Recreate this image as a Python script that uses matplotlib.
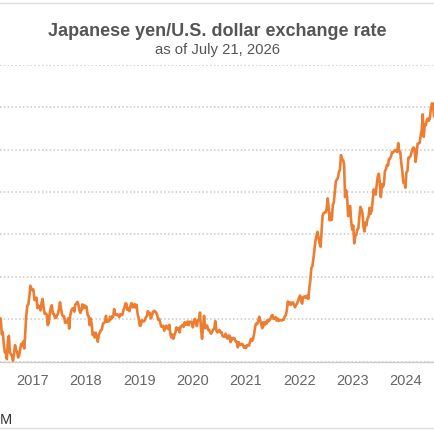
import pandas as pd
import numpy as np
import matplotlib
matplotlib.use('Agg')
import matplotlib.pyplot as plt
from matplotlib.lines import Line2D

plt.rcParams['font.family'] = ['Liberation Sans', 'DejaVu Sans']

# weekly (Friday) closes, yen per U.S. dollar
yen_2016 = [106.3, 107.1, 108.6, 110.2, 110.2, 106.5, 107.0, 104.2, 102.2, 102.5,
            100.6, 104.9, 106.1, 102.1, 101.8, 101.3, 100.2, 101.8, 103.9, 102.7,
            102.3, 101.0, 101.4, 102.9, 104.2, 103.8, 104.7, 103.1, 106.7, 110.9,
            113.2, 113.5, 115.3, 117.9, 117.3, 116.9]
yen_2017 = [117.0, 114.5, 114.6, 115.1, 112.6, 113.2, 112.9, 112.1, 114.0, 114.8,
            112.7, 111.3, 111.4, 111.1, 108.6, 109.1, 111.5, 112.7, 113.3, 111.3,
            111.3, 110.4, 110.3, 110.9, 111.3, 112.4, 114.0, 112.5, 111.1, 110.7,
            110.7, 109.2, 109.2, 109.4, 110.2, 107.8, 110.8, 112.0, 112.5, 112.6,
            111.8, 113.5, 113.7, 114.1, 113.5, 112.1, 111.5, 112.2, 113.5, 112.6,
            113.3, 112.7]
yen_2018 = [113.0, 111.0, 110.8, 108.6, 110.2, 108.8, 106.3, 106.9, 105.7, 106.8,
            106.0, 104.7, 106.3, 106.9, 107.4, 107.6, 109.0, 109.1, 109.4, 110.8,
            109.4, 109.5, 109.5, 110.6, 110.0, 110.7, 110.5, 112.4, 111.4, 111.0,
            111.2, 110.9, 110.5, 111.2, 111.0, 111.0, 112.1, 112.6, 113.7, 113.7,
            112.2, 112.5, 111.9, 113.2, 113.8, 112.8, 112.9, 113.6, 112.7, 113.4,
            111.2, 110.3]
yen_2019 = [108.5, 108.5, 109.8, 109.6, 109.5, 109.7, 110.5, 110.7, 111.9, 111.2,
            111.5, 110.2, 110.9, 111.7, 112.0, 111.9, 111.6, 111.1, 109.9, 110.1,
            109.3, 108.3, 108.2, 108.5, 107.3, 107.9, 108.5, 107.9, 107.7, 108.7,
            106.6, 105.7, 106.4, 105.4, 106.3, 106.9, 108.1, 107.6, 107.9, 106.9,
            108.3, 108.4, 108.7, 108.2, 109.3, 108.8, 108.7, 109.5, 108.6, 109.4,
            109.4, 109.4]
yen_2020 = [108.1, 109.5, 110.1, 109.3, 108.4, 109.8, 109.8, 111.6, 107.9, 105.4,
            108.0, 110.8, 107.9, 108.5, 108.5, 107.5, 107.5, 106.9, 106.6, 107.1,
            107.6, 107.8, 109.6, 107.4, 106.9, 107.2, 107.5, 106.9, 107.0, 106.1,
            105.9, 105.9, 106.6, 105.8, 105.4, 106.2, 106.1, 104.6, 105.6, 105.3,
            105.6, 105.4, 104.7, 104.7, 103.4, 104.6, 103.9, 104.1, 104.2, 104.0,
            103.3, 103.6]
yen_2021 = [103.2, 103.9, 103.9, 103.8, 104.7, 105.4, 104.9, 105.4, 106.6, 108.3,
            109.0, 108.9, 109.6, 110.6, 109.7, 108.8, 107.9, 109.3, 108.6, 109.4,
            108.9, 109.8, 109.5, 109.7, 110.2, 110.8, 111.0, 110.1, 110.1, 110.5,
            109.7, 110.2, 109.6, 109.8, 109.8, 109.7, 109.9, 109.9, 110.7, 111.0,
            112.2, 114.2, 113.5, 114.0, 113.4, 113.9, 114.0, 113.4, 112.8, 113.4,
            113.7, 114.4, 115.1]
yen_2022 = [115.6, 114.2, 113.7, 115.3, 115.2, 115.4, 115.0, 115.6, 114.8, 117.3,
            119.2, 122.1, 122.5, 124.3, 126.4, 128.5, 129.7, 130.6, 129.2, 127.9,
            127.1, 130.9, 134.4, 135.0, 135.2, 135.2, 136.1, 138.5, 136.1, 133.3,
            135.0, 133.4, 136.9, 137.6, 140.2, 142.6, 142.9, 143.4, 144.7, 145.3,
            148.7, 147.6, 147.6, 146.6, 138.8, 140.4, 138.8, 134.3, 136.6, 136.7,
            132.9, 131.1]
yen_2023 = [132.1, 127.9, 129.6, 129.9, 131.2, 131.4, 134.2, 136.5, 135.9, 135.0,
            131.8, 130.7, 132.8, 132.2, 133.8, 134.2, 136.3, 134.8, 135.7, 137.9,
            140.6, 139.9, 139.4, 141.8, 143.7, 144.3, 142.1, 138.8, 141.8, 141.2,
            141.8, 144.9, 145.4, 146.4, 146.2, 147.8, 147.9, 148.4, 149.4, 149.3,
            149.6, 149.9, 149.7, 149.4, 151.5, 149.6, 149.4, 146.8, 144.9, 142.2,
            142.4, 141.0]
yen_2024 = [144.6, 144.9, 148.1, 148.2, 148.4, 149.3, 150.2, 150.5, 150.1, 147.1,
            149.1, 151.4, 151.4, 151.6, 153.3, 154.6, 158.3, 153.0, 155.8, 155.7,
            157.0, 157.3, 156.8, 157.4, 159.8, 160.9, 160.8, 157.9, 157.5, 153.8]

years = [2017, 2018, 2019, 2020, 2021, 2022, 2023, 2024]
y_ticks = [100, 110, 120, 130, 140, 150, 160, 170]

title = 'Japanese yen/U.S. dollar exchange rate'
subtitle = 'as of July 21, 2026'

# build one weekly series
parts = [pd.Series(yen_2016, index=pd.date_range('2016-04-29', periods=len(yen_2016), freq='W-FRI'))]
for yr, vals in zip(range(2017, 2025),
                    [yen_2017, yen_2018, yen_2019, yen_2020, yen_2021, yen_2022, yen_2023, yen_2024]):
    parts.append(pd.Series(vals, index=pd.date_range(f'{yr}-01-01', periods=len(vals), freq='W-FRI')))
rate = pd.concat(parts)

fig = plt.figure(figsize=(4.35, 4.35), dpi=100)
ax = fig.add_axes([0, 0.1662, 1, 0.6828])

ax.plot(rate.index, rate.values, color='#ED7D31', lw=1.9, solid_joinstyle='round')

ax.set_xlim(pd.Timestamp('2016-05-22'), pd.Timestamp('2024-07-19'))
ax.set_ylim(100, 170)

ax.set_yticks(y_ticks)
ax.yaxis.grid(True, linestyle=(0, (1, 1.5)), color='#c8c8c8', lw=1.1)
ax.tick_params(axis='y', length=0, labelleft=False)

ax.set_xticks([pd.Timestamp(f'{y}-01-01') for y in years])
ax.set_xticklabels([str(y) for y in years])
ax.tick_params(axis='x', length=0, pad=8, labelsize=10.5, labelcolor='#666666')

for s in ['top', 'left', 'right']:
    ax.spines[s].set_visible(False)
ax.spines['bottom'].set_color('#cccccc')
ax.spines['bottom'].set_linewidth(1)

fig.text(0.5, 0.9287, title, ha='center', va='center', fontsize=13,
         fontweight='bold', color='#555555')
fig.text(0.5, 0.885, subtitle, ha='center', va='center', fontsize=10.7, color='#555555')
fig.text(0.0, 0.035, 'M', ha='left', va='center', fontsize=10.5, color='#333333')

fig.add_artist(Line2D([0, 1], [0.9908, 0.9908], transform=fig.transFigure, color='#dddddd', lw=1))
fig.add_artist(Line2D([0, 1], [0.0138, 0.0138], transform=fig.transFigure, color='#dddddd', lw=1))

fig.savefig('out.png', dpi=100)
